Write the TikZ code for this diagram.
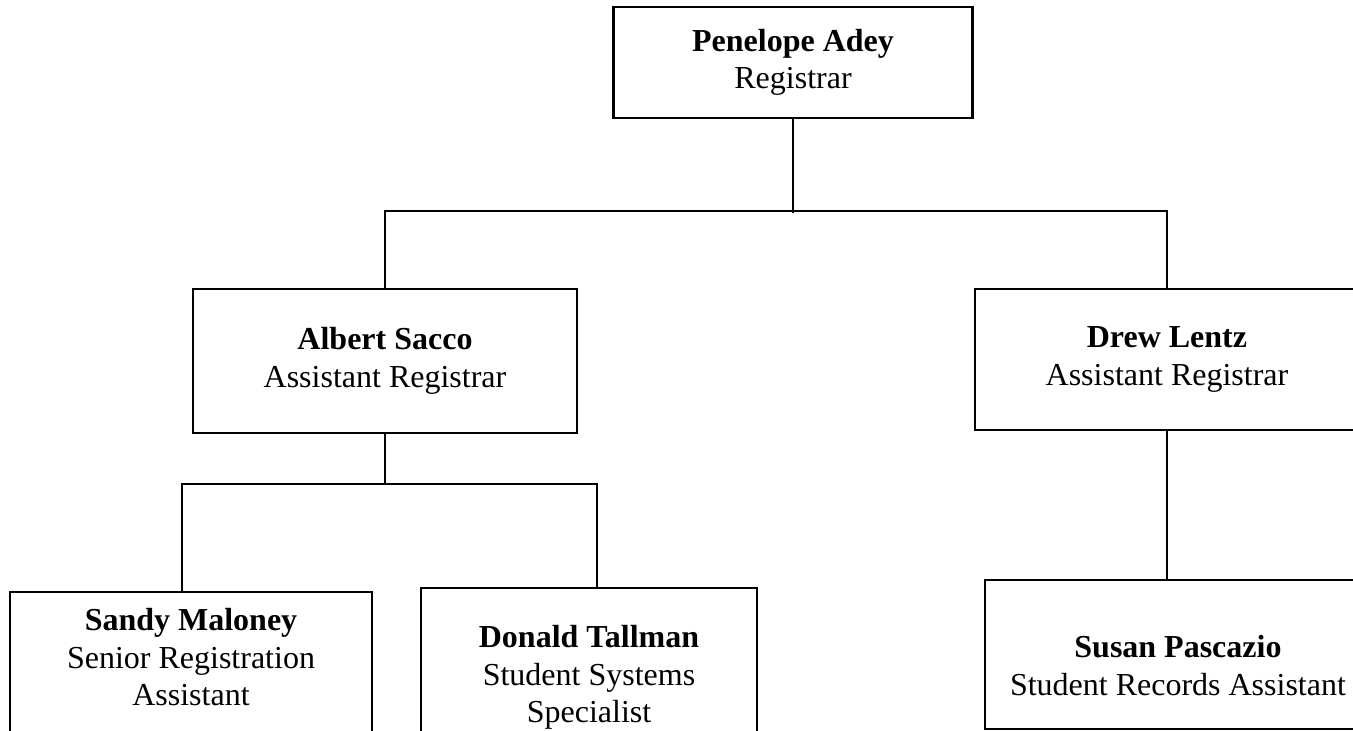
\documentclass[tikz,border=0pt]{standalone}
\usepackage{fontspec}
\setmainfont{Liberation Serif}
\usetikzlibrary{positioning}

\tikzset{
  post/.style={draw, line width=0.9pt, align=center, inner sep=0pt, font=\fontsize{12}{14}\selectfont},
  posttext/.style={align=center, inner sep=0pt, font=\fontsize{12}{14}\selectfont},
  link/.style={line width=0.9pt},
}

\begin{document}
\begin{tikzpicture}[x=0.375pt, y=-0.375pt]
  \useasboundingbox (0,0) rectangle (1353,731);
  \clip (0,0) rectangle (1353,731);

  % Registrar
  \node[post, minimum width=134.6pt, minimum height=41.6pt] (penelope) at (793,62.5)
    {\textbf{Penelope Adey}\\Registrar};

  % Assistant registrars
  \node[post, minimum width=144pt, minimum height=54pt] (albert) at (385,361)
    {\textbf{Albert Sacco}\\Assistant Registrar};
  \node[post, minimum width=144pt, minimum height=52.9pt] (drew) at (1167,359.5)
    {\textbf{Drew Lentz}\\Assistant Registrar};

  % Staff (boxes run off the page)
  \node[post, anchor=north, minimum width=135.75pt, minimum height=60pt] (sandy) at (191,591) {};
  \node[posttext, below=6.4pt of sandy.north] (sandy_txt)
    {\textbf{Sandy Maloney}\\Senior Registration\\Assistant};
  \node[post, anchor=north, minimum width=126pt, minimum height=60pt] (donald) at (589,587) {};
  \node[posttext, below=14.3pt of donald.north] (donald_txt)
    {\textbf{Donald Tallman}\\Student Systems\\Specialist};
  \node[post, anchor=north, minimum width=144.75pt, minimum height=55.9pt] (susan) at (1178,579) {};
  \node[posttext, below=21pt of susan.north] (susan_txt)
    {\textbf{Susan Pascazio}\\Student Records Assistant};

  % Lines
  \coordinate (top_bus) at (793,211);
  \coordinate (left_bus) at (385,484);
  \draw[link] (penelope.south) -- ([yshift=-0.8pt]penelope.south |- top_bus);
  \draw[link] (albert.north) |- (top_bus) -| (drew.north);
  \draw[link] (albert.south) -- (left_bus);
  \draw[link] ([xshift=-3.4pt]sandy.north) |- (left_bus) -| ([xshift=3pt]donald.north);
  \draw[link] (drew.south) -- (drew.south |- susan.north);
\end{tikzpicture}
\end{document}
